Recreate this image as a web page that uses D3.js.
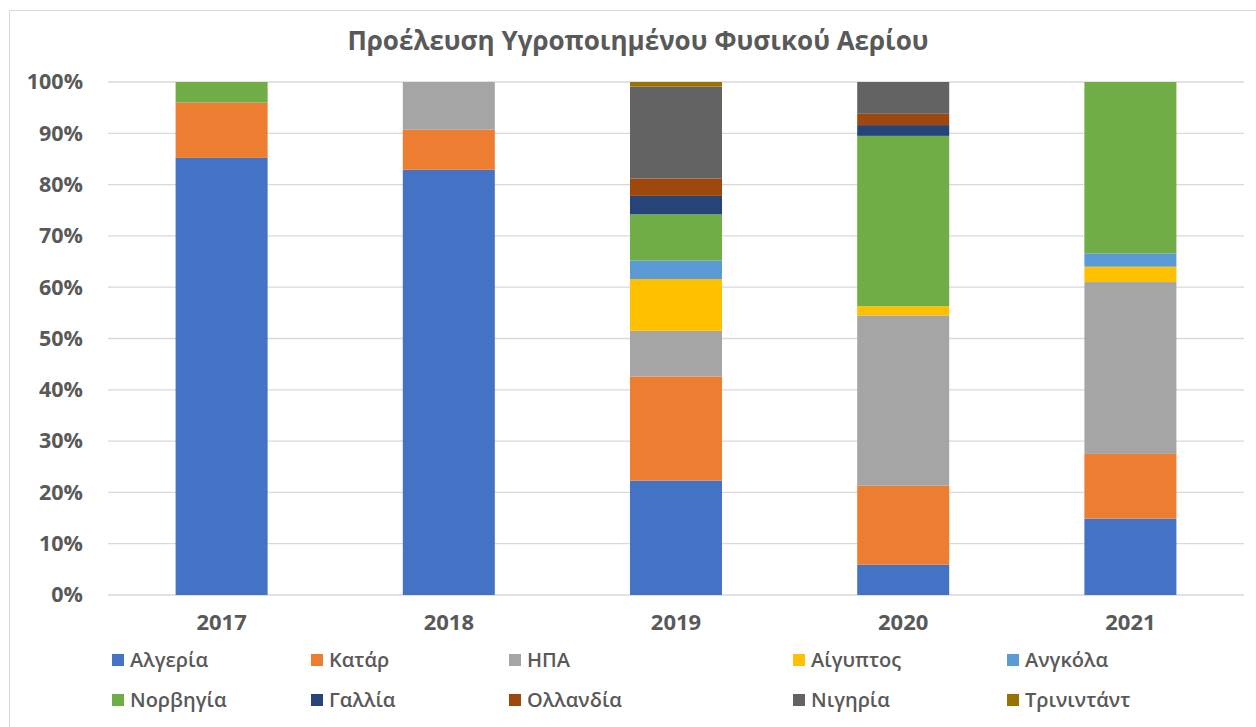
<!DOCTYPE html>
<html>
<head>
<meta charset="utf-8">
<script src="https://cdn.jsdelivr.net/npm/d3@7"></script>
<style>
  body { margin: 0; background: #fff; }
  text { font-family: "Open Sans", sans-serif; fill: #595959; }
  .grid line { stroke: #d9d9d9; stroke-width: 1.3; }
</style>
</head>
<body>
<div id="chart"></div>
<script>
var years = ["2017", "2018", "2019", "2020", "2021"];
var countries = ["Αλγερία", "Κατάρ", "ΗΠΑ", "Αίγυπτος", "Ανγκόλα", "Νορβηγία", "Γαλλία", "Ολλανδία", "Νιγηρία", "Τρινιντάντ"];
var colors = ["#4472C4", "#ED7D31", "#A5A5A5", "#FFC000", "#5B9BD5", "#70AD47", "#264478", "#9E480E", "#636363", "#997300"];

// percentages per year, one array per country
var algeria  = [85.2, 82.9, 22.3, 5.9, 14.9];
var qatar    = [10.8, 7.8, 20.3, 15.4, 12.6];
var usa      = [0, 9.3, 8.9, 33.2, 33.5];
var egypt    = [0, 0, 10.1, 1.8, 3.0];
var angola   = [0, 0, 3.6, 0, 2.6];
var norway   = [4.0, 0, 9.0, 33.2, 33.4];
var france   = [0, 0, 3.6, 2.1, 0];
var holland  = [0, 0, 3.4, 2.2, 0];
var nigeria  = [0, 0, 17.9, 6.2, 0];
var trinidad = [0, 0, 0.9, 0, 0];

var yTicks = [0, 10, 20, 30, 40, 50, 60, 70, 80, 90, 100];

var series = [algeria, qatar, usa, egypt, angola, norway, france, holland, nigeria, trinidad];

function init() {
  var w = 1256, h = 727;
  var xLeft = 108, xRight = 1244, yTop = 82, yBottom = 595;

  var svg = d3.select("#chart").append("svg")
    .attr("width", w)
    .attr("height", h);

  // outer chart border
  svg.append("rect")
    .attr("x", 9.5).attr("y", 10.5)
    .attr("width", 1260).attr("height", 730)
    .attr("fill", "none")
    .attr("stroke", "#d9d9d9");

  svg.append("text")
    .attr("x", 638).attr("y", 50)
    .attr("text-anchor", "middle")
    .attr("font-size", 26)
    .attr("font-weight", "bold")
    .text("Προέλευση Υγροποιημένου Φυσικού Αερίου");

  var xScale = d3.scaleBand()
    .domain(years)
    .range([xLeft, xRight])
    .paddingInner(0.595)
    .paddingOuter(0.2975);

  var yScale = d3.scaleLinear()
    .domain([0, 100])
    .range([yBottom, yTop]);

  // gridlines
  svg.append("g")
    .attr("class", "grid")
    .selectAll("line")
    .data(yTicks)
    .enter()
    .append("line")
    .attr("x1", xLeft).attr("x2", xRight)
    .attr("y1", function(d) { return yScale(d); })
    .attr("y2", function(d) { return yScale(d); });

  // stacked data
  var table = years.map(function(y, i) {
    var row = { year: y };
    countries.forEach(function(c, j) { row[c] = series[j][i]; });
    return row;
  });
  var stacked = d3.stack().keys(countries)(table);

  svg.append("g")
    .selectAll("g")
    .data(stacked)
    .enter()
    .append("g")
    .attr("fill", function(d, i) { return colors[i]; })
    .selectAll("rect")
    .data(function(d) { return d; })
    .enter()
    .append("rect")
    .attr("x", function(d) { return xScale(d.data.year); })
    .attr("width", xScale.bandwidth())
    .attr("y", function(d) { return yScale(d[1]); })
    .attr("height", function(d) { return yScale(d[0]) - yScale(d[1]); });

  var yAxis = d3.axisLeft(yScale)
    .tickValues(yTicks)
    .tickSize(0)
    .tickPadding(0)
    .tickFormat(function(d) { return d + "%"; });

  svg.append("g")
    .attr("transform", "translate(83, 0)")
    .call(yAxis)
    .call(function(g) { g.select(".domain").remove(); })
    .selectAll("text")
    .attr("font-size", 21.5)
    .attr("font-weight", "bold")
    .attr("font-family", "Open Sans")
    .attr("fill", "#595959");

  var xAxis = d3.axisBottom(xScale).tickSize(0).tickPadding(0);

  svg.append("g")
    .attr("transform", "translate(0, 614)")
    .call(xAxis)
    .call(function(g) { g.select(".domain").remove(); })
    .selectAll("text")
    .attr("font-size", 22)
    .attr("font-weight", "bold")
    .attr("font-family", "Open Sans")
    .attr("fill", "#595959");

  // legend
  var legendX = [112, 311, 509, 793, 1007];
  var legendY = [660, 700];

  var legend = svg.append("g")
    .selectAll("g")
    .data(countries)
    .enter()
    .append("g")
    .attr("transform", function(d, i) {
      return "translate(" + legendX[i % 5] + "," + legendY[Math.floor(i / 5)] + ")";
    });

  legend.append("rect")
    .attr("x", 0).attr("y", -6)
    .attr("width", 12).attr("height", 12)
    .attr("fill", function(d, i) { return colors[i]; });

  legend.append("text")
    .attr("x", 18).attr("y", 0)
    .attr("dy", "0.35em")
    .attr("font-size", 20)
    .attr("font-weight", 600)
    .text(function(d) { return d; });
}

init();
</script>
</body>
</html>
